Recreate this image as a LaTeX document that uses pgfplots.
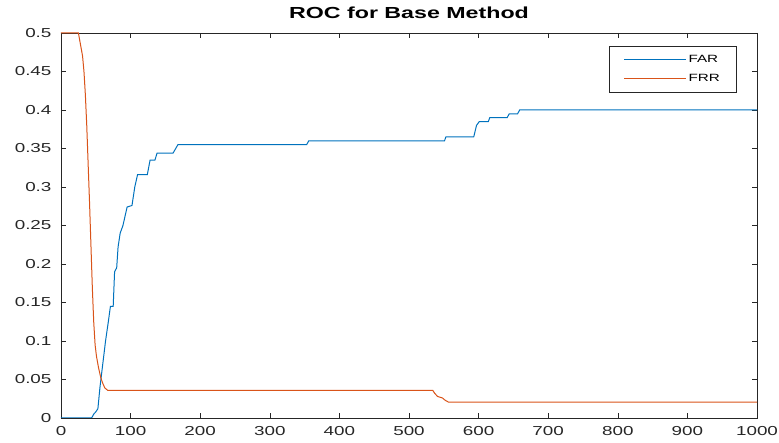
\documentclass[border=0pt]{standalone}
\usepackage{fontspec}
\setmainfont{Liberation Sans}[FakeStretch=1.45]
\usepackage{pgfplots}
\pgfplotsset{compat=1.18}

\definecolor{farblue}{rgb}{0,0.447,0.741}
\definecolor{frrorange}{rgb}{0.850,0.325,0.098}
\definecolor{axgray}{rgb}{0.15,0.15,0.15}

% longer legend sample lines
\pgfplotsset{longline/.style={
  legend image code/.code={%
    \draw[##1, line width=1pt] plot coordinates {(0pt,0pt) (31pt,0pt) (62pt,0pt)};}}}

\begin{document}
\begin{tikzpicture}
\begin{axis}[
  scale only axis,
  width=696pt, height=385pt,
  xmin=0, xmax=1000, ymin=0, ymax=0.5,
  xtick={0,100,...,1000},
  ytick={0,0.05,...,0.5},
  scaled y ticks=false,
  scaled x ticks=false,
  /pgf/number format/assume math mode=true,
  /pgf/number format/fixed,
  /pgf/number format/precision=2,
  /pgf/number format/1000 sep={},
  tick align=inside,
  major tick length=5pt,
  tick style={axgray, line width=0.6pt},
  axis line style={axgray, line width=0.8pt},
  ticklabel style={font=\fontsize{13}{15}\selectfont, text=axgray},
  yticklabel style={xshift=-6pt},
  xticklabel style={yshift=-5pt},
  title={ROC for Base Method},
  title style={at={(0.5,1)}, anchor=base, yshift=8pt,
               font=\bfseries\fontsize{16}{19}\selectfont},
  longline,
  legend cell align=left,
  legend style={at={(0.97,0.966)}, anchor=north east,
                draw=axgray, line width=0.6pt,
                font=\fontsize{10.5}{12}\selectfont,
                inner xsep=14pt, inner ysep=6.5pt, row sep=7pt},
]
% false acceptance rate
\addplot[color=farblue, line width=1pt] coordinates {
  (0,0) (44,0) (47,0.005) (50,0.008) (53,0.012) (56,0.04) (60,0.07)
  (64,0.1) (68,0.125) (71,0.145) (75,0.145) (77,0.19) (80,0.195)
  (82,0.222) (85,0.24) (89,0.25) (92,0.262) (95,0.274) (102,0.276)
  (106,0.30) (110,0.316) (124,0.316) (128,0.335) (135,0.335)
  (138,0.344) (161,0.344) (168,0.355) (353,0.355) (356,0.36)
  (551,0.36) (553,0.365) (593,0.365) (597,0.38) (601,0.385)
  (614,0.385) (616,0.39) (641,0.39) (644,0.395) (656,0.395)
  (659,0.4) (1000,0.4)
};
\addlegendentry{FAR}
% false rejection rate
\addplot[color=frrorange, line width=1pt] coordinates {
  (0,0.5) (25,0.5) (28,0.485) (31,0.47) (33,0.45) (35,0.42) (37,0.38)
  (39,0.33) (41,0.28) (43,0.225) (45,0.17) (47,0.125) (49,0.095)
  (51,0.08) (54,0.065) (57,0.053) (60,0.045) (63,0.039) (67,0.036)
  (534,0.036) (537,0.032) (541,0.028) (548,0.026) (552,0.023)
  (557,0.0205) (1000,0.0205)
};
\addlegendentry{FRR}
\end{axis}
\pgfresetboundingbox
\path (-61pt,-25pt) rectangle (718pt,418pt);
\end{tikzpicture}
\end{document}
